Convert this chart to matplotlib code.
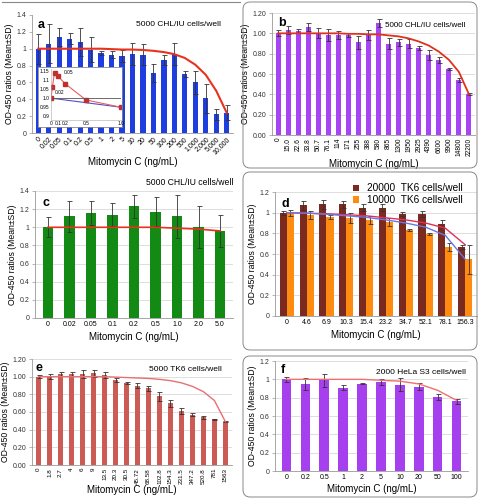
import numpy as np
import matplotlib.pyplot as plt
from matplotlib.patches import FancyBboxPatch

# ---- data ----
a_cats = ['0', '0.02', '0.05', '0.1', '0.2', '0.5', '1', '2', '5', '10', '20', '50',
          '100', '200', '500', '1,000', '2,000', '5,000', '10,000']
a_vals = [1.00, 1.06, 1.14, 1.12, 1.08, 0.99, 0.95, 0.93, 0.91, 0.94, 0.93, 0.71,
          0.87, 0.94, 0.70, 0.60, 0.41, 0.22, 0.24]
a_err = [0.18, 0.23, 0.11, 0.07, 0.17, 0.15, 0.02, 0.04, 0.07, 0.13, 0.12, 0.11,
         0.06, 0.13, 0.03, 0.14, 0.17, 0.06, 0.09]
a_fit = [1.00, 1.00, 1.00, 1.00, 1.00, 1.00, 1.00, 0.995, 0.99, 0.99, 0.985, 0.975,
         0.96, 0.935, 0.89, 0.81, 0.69, 0.50, 0.24]
ins_x = [0, 0.02, 0.05, 0.1, 0.2, 0.5, 1.0]
ins_red = [1.00, 1.06, 1.14, 1.12, 1.08, 0.99, 0.95]
ins_blue_x = [0, 1.0]
ins_blue = [1.00, 0.95]

b_cats = ['0', '15.0', '22.6', '33.8', '50.7', '76.1', '114', '171', '255', '388',
          '580', '865', '1300', '1950', '2925', '4390', '6600', '9900', '14800', '22200']
b_vals = [1.00, 1.03, 1.02, 1.06, 1.00, 0.98, 0.98, 0.98, 0.91, 0.98, 1.10, 0.90,
          0.91, 0.90, 0.86, 0.79, 0.74, 0.65, 0.54, 0.40]
b_err = [0.03, 0.04, 0.02, 0.04, 0.05, 0.06, 0.04, 0.02, 0.06, 0.05, 0.04, 0.05,
         0.03, 0.04, 0.02, 0.05, 0.03, 0.01, 0.02, 0.01]
b_fit = [1.00, 1.00, 1.00, 1.00, 1.00, 1.00, 1.00, 0.995, 0.995, 0.99, 0.99, 0.98,
         0.97, 0.95, 0.92, 0.88, 0.82, 0.74, 0.62, 0.40]

c_cats = ['0', '0.02', '0.05', '0.1', '0.2', '0.5', '1.0', '2.0', '5.0']
c_vals = [1.00, 1.12, 1.16, 1.14, 1.23, 1.17, 1.12, 1.00, 0.96]
c_err = [0.11, 0.17, 0.13, 0.13, 0.13, 0.16, 0.24, 0.23, 0.18]
c_fit = [1.00, 1.00, 1.00, 1.00, 1.00, 1.00, 0.99, 0.98, 0.96]

d_cats = ['0', '4.6', '6.9', '10.3', '15.4', '23.2', '34.7', '52.1', '78.1', '156.3']
d_hi = [1.00, 1.07, 1.08, 1.08, 1.05, 1.05, 0.99, 0.99, 0.89, 0.67]
d_hi_err = [0.02, 0.04, 0.04, 0.03, 0.03, 0.03, 0.02, 0.03, 0.04, 0.02]
d_lo = [1.00, 0.98, 0.96, 0.95, 0.93, 0.91, 0.83, 0.79, 0.67, 0.55]
d_lo_err = [0.03, 0.04, 0.02, 0.05, 0.04, 0.04, 0.01, 0.01, 0.04, 0.14]
d_fit_hi = [1.00, 0.995, 0.99, 0.98, 0.97, 0.95, 0.93, 0.90, 0.85, 0.69]
d_fit_lo = [1.00, 0.995, 0.985, 0.97, 0.955, 0.93, 0.90, 0.86, 0.78, 0.55]

e_cats = ['0', '1.8', '2.7', '4', '6', '9', '13.5', '20.3', '30.5', '45.72', '68.58',
          '102.8', '154.3', '231.5', '347.2', '520.8', '781', '1563']
e_vals = [1.00, 1.00, 1.03, 1.03, 1.03, 1.04, 1.02, 0.96, 0.93, 0.90, 0.87, 0.78,
          0.70, 0.61, 0.57, 0.54, 0.52, 0.49]
e_err = [0.02, 0.03, 0.02, 0.02, 0.04, 0.04, 0.03, 0.02, 0.01, 0.03, 0.03, 0.05,
         0.04, 0.03, 0.02, 0.02, 0.005, 0.005]
e_fit = [1.00, 1.00, 1.00, 1.00, 1.00, 1.00, 1.00, 0.995, 0.99, 0.985, 0.98, 0.97,
         0.955, 0.93, 0.89, 0.83, 0.73, 0.49]

f_cats = ['0', '0.2', '0.5', '1', '2', '5', '10', '20', '50', '100']
f_vals = [1.00, 0.95, 0.99, 0.91, 0.95, 0.97, 0.94, 0.92, 0.81, 0.76]
f_err = [0.03, 0.07, 0.07, 0.03, 0.005, 0.03, 0.07, 0.04, 0.03, 0.03]
f_fit = [1.00, 1.00, 1.00, 1.00, 1.00, 0.99, 0.98, 0.95, 0.88, 0.77]

plt.rcParams['font.family'] = ['Liberation Sans', 'DejaVu Sans']
YLAB = 'OD-450 ratios (Mean\u00b1SD)'
XLAB = 'Mitomycin C (ng/mL)'
W, H = 479, 498


def px_axes(fig, x0, y0, x1, y1):
    # pixel box (top-left origin) -> figure axes
    return fig.add_axes([x0 / W, 1 - y1 / H, (x1 - x0) / W, (y1 - y0) / H])


def style(ax, ymax, step, fmt, grid=True):
    ax.set_ylim(0, ymax)
    ticks = np.arange(0, ymax + 1e-9, step)
    ax.set_yticks(ticks)
    ax.set_yticklabels([fmt.format(t) for t in ticks], fontsize=5, color='#333333')
    for s in ['top', 'right']:
        ax.spines[s].set_visible(False)
    for s in ['left', 'bottom']:
        ax.spines[s].set_color('#999999')
        ax.spines[s].set_linewidth(0.6)
    ax.tick_params(axis='y', length=2, width=0.5, color='#999999', pad=2)
    ax.tick_params(axis='x', length=0, pad=2)
    if grid:
        ax.yaxis.grid(True, color='#d0d0d0', linewidth=0.5)
        ax.set_axisbelow(True)
    ax.set_ylabel(YLAB, fontsize=6.2, labelpad=2)


def bars(ax, cats, vals, err, color, fit, fitcolor, width=0.5, lw=1.2):
    x = np.arange(len(cats))
    ax.bar(x, vals, width=width, color=color, zorder=2)
    ax.errorbar(x, vals, yerr=err, fmt='none', ecolor='#333333', elinewidth=0.6,
                capsize=1.8, capthick=0.6, zorder=3)
    ax.plot(x, fit, color=fitcolor, linewidth=lw, zorder=4)
    ax.set_xlim(-0.6, len(cats) - 0.4)
    ax.set_xticks(x)
    return x


fig = plt.figure(figsize=(W / 100, H / 100), dpi=100)

# panel frames
fig.add_artist(plt.Line2D([2 / W, 240 / W], [1 - 2 / H, 1 - 2 / H], color='#888888', lw=0.8))
for (x0, y0, x1, y1) in [(243, 2, 477, 168), (243, 172, 477, 350), (243, 356, 477, 497)]:
    fig.add_artist(FancyBboxPatch((x0 / W, 1 - y1 / H), (x1 - x0) / W, (y1 - y0) / H,
                                  boxstyle='round,pad=0,rounding_size=0.015',
                                  fill=False, edgecolor='#888888', lw=0.7,
                                  transform=fig.transFigure))

# ---- a ----
ax = px_axes(fig, 32, 15, 233, 133)
bars(ax, a_cats, a_vals, a_err, '#1f3ee0', a_fit, '#e8321e', width=0.5, lw=1.5)
style(ax, 1.4, 0.2, '{:g}', grid=False)
ax.set_xticklabels(a_cats, rotation=45, ha='right', rotation_mode='anchor', fontsize=5)
ax.set_xlabel(XLAB, fontsize=7, labelpad=1)
ax.text(0.03, 0.97, 'a', transform=ax.transAxes, fontsize=9, fontweight='bold', va='top')
ax.text(0.94, 0.95, '5000 CHL/IU cells/well', transform=ax.transAxes, fontsize=6,
        ha='right', va='top')

bg = px_axes(fig, 38, 67, 122, 127)
bg.set_xticks([]); bg.set_yticks([])
for s in bg.spines.values():
    s.set_color('#888888'); s.set_linewidth(0.6)
bg.set_facecolor('white')
bg.set_zorder(5)
ins = px_axes(fig, 51, 69, 121, 120)
ins.set_zorder(6)
ins.patch.set_alpha(0)
ins.plot(ins_blue_x, ins_blue, color='#5050d0', lw=0.8)
ins.plot(ins_x, ins_red, color='#e86060', lw=0.8, marker='s', ms=2.2, mfc='#c03030', mec='#c03030')
ins.axhline(1.0, color='#555555', lw=0.6)
ins.set_xlim(0, 1.0)
ins.set_ylim(0.88, 1.16)
ins.set_xticks([0, 0.1, 0.2, 0.5, 1.0])
ins.set_xticklabels(['0', '0.1', '0.2', '0.5', '1.0'], fontsize=3.5)
ins.set_yticks([0.9, 0.95, 1.0, 1.05, 1.1, 1.15])
ins.set_yticklabels(['0.9', '0.95', '1.0', '1.05', '1.1', '1.15'], fontsize=3.5)
ins.tick_params(length=0, pad=1)
for s in ['top', 'right']:
    ins.spines[s].set_visible(False)
for s in ['left', 'bottom']:
    ins.spines[s].set_color('#aaaaaa'); ins.spines[s].set_linewidth(0.4)
ins.annotate('0.05', xy=(0.05, 1.14), xytext=(0.18, 1.13), fontsize=3.5,
             arrowprops=dict(arrowstyle='-', lw=0.3, color='#888888'))
ins.annotate('0.02', xy=(0.02, 1.06), xytext=(0.05, 1.02), fontsize=3.5,
             arrowprops=dict(arrowstyle='-', lw=0.3, color='#888888'))

# ---- b ----
ax = px_axes(fig, 272, 13, 475, 135)
bars(ax, b_cats, b_vals, b_err, '#a745f5', b_fit, '#e0301e', width=0.5, lw=1.3)
style(ax, 1.2, 0.2, '{:.2f}')
ax.set_xticklabels(b_cats, rotation=90, fontsize=4.8)
ax.set_xlabel(XLAB, fontsize=7, labelpad=2)
ax.text(0.03, 0.97, 'b', transform=ax.transAxes, fontsize=9, fontweight='bold', va='top')
ax.text(0.95, 0.93, '5000 CHL/IU cells/well', transform=ax.transAxes, fontsize=5.8,
        ha='right', va='top')

# ---- c ----
ax = px_axes(fig, 35, 191, 233, 318)
bars(ax, c_cats, c_vals, c_err, '#138a13', c_fit, '#e8321e', width=0.5, lw=1.2)
style(ax, 1.4, 0.2, '{:g}')
ax.set_xticklabels(c_cats, fontsize=5)
ax.set_xlabel(XLAB, fontsize=7, labelpad=3)
ax.text(0.04, 0.95, 'c', transform=ax.transAxes, fontsize=9, fontweight='bold', va='top')
ax.text(1.0, 1.03, '5000 CHL/IU cells/well', transform=ax.transAxes, fontsize=6.2,
        ha='right', va='bottom')

# ---- d ----
ax = px_axes(fig, 275, 192, 477, 316)
x = np.arange(len(d_cats))
bw = 0.36
ax.bar(x - bw / 2, d_hi, width=bw, color='#7b2a1f', zorder=2, label='20000  TK6 cells/well')
ax.bar(x + bw / 2, d_lo, width=bw, color='#ff8c10', zorder=2, label='10000  TK6 cells/well')
ax.errorbar(x - bw / 2, d_hi, yerr=d_hi_err, fmt='none', ecolor='#333333', elinewidth=0.6,
            capsize=1.8, capthick=0.6, zorder=3)
ax.errorbar(x + bw / 2, d_lo, yerr=d_lo_err, fmt='none', ecolor='#333333', elinewidth=0.6,
            capsize=1.8, capthick=0.6, zorder=3)
ax.plot(x, d_fit_hi, color='#e0305a', lw=1.0, zorder=4)
ax.plot(x, d_fit_lo, color='#6a78e0', lw=1.0, zorder=4)
ax.set_xlim(-0.6, len(d_cats) - 0.4)
ax.set_xticks(x)
style(ax, 1.2, 0.2, '{:g}')
ax.set_xticklabels(d_cats, fontsize=5)
ax.set_xlabel(XLAB, fontsize=7, labelpad=3)
ax.text(0.03, 0.95, 'd', transform=ax.transAxes, fontsize=9, fontweight='bold', va='top')
ax.legend(loc='upper left', bbox_to_anchor=(0.36, 1.11), fontsize=7.3, frameon=False,
          handlelength=0.6, handleheight=0.6, handletextpad=0.8, labelspacing=0.15,
          borderpad=0)

# ---- e ----
ax = px_axes(fig, 32, 359, 232, 465)
bars(ax, e_cats, e_vals, e_err, '#cc5a55', e_fit, '#e87070', width=0.5, lw=1.0)
style(ax, 1.2, 0.2, '{:.2f}')
ax.set_xticklabels(e_cats, rotation=90, fontsize=4.5)
ax.set_xlabel(XLAB, fontsize=7, labelpad=1)
ax.text(0.02, 0.97, 'e', transform=ax.transAxes, fontsize=9, fontweight='bold', va='top')
ax.text(0.95, 0.93, '5000 TK6 cells/well', transform=ax.transAxes, fontsize=6,
        ha='right', va='top')

# ---- f ----
ax = px_axes(fig, 275, 361, 468, 471)
bars(ax, f_cats, f_vals, f_err, '#a640ee', f_fit, '#f07070', width=0.5, lw=1.0)
style(ax, 1.2, 0.2, '{:g}')
ax.set_xticklabels(f_cats, fontsize=5)
ax.set_xlabel(XLAB, fontsize=7, labelpad=2)
ax.text(0.03, 0.97, 'f', transform=ax.transAxes, fontsize=9, fontweight='bold', va='top')
ax.text(0.99, 0.93, '2000 HeLa S3 cells/well', transform=ax.transAxes, fontsize=6,
        ha='right', va='top')

fig.savefig('out.png', dpi=100)
